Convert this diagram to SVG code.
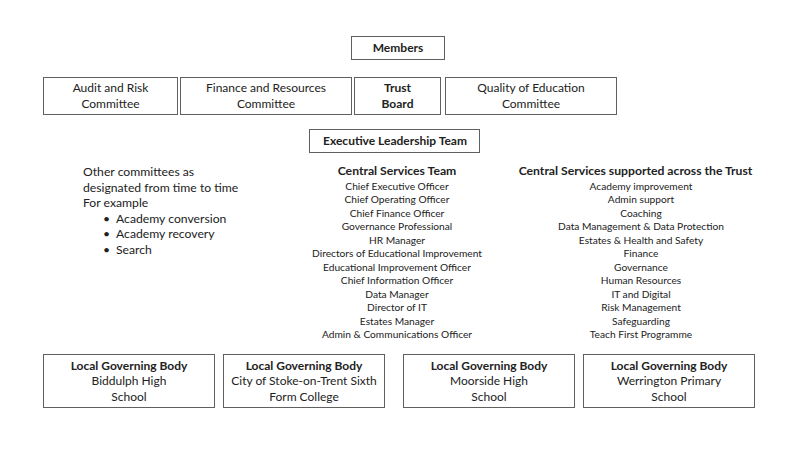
<svg xmlns="http://www.w3.org/2000/svg" width="800" height="458" viewBox="0 0 800 458">
<style>
.box{fill:#fff;stroke:#606060;stroke-width:1}
text{font-family:Lato,"Open Sans","Liberation Sans",sans-serif;fill:#222}
.t{font-size:12px;text-anchor:middle}
.b{font-weight:bold}
.l{font-size:10.2px;text-anchor:middle}
.h{font-size:12.2px;text-anchor:middle;font-weight:bold}
.o{font-size:12.2px}
</style>
<rect width="800" height="458" fill="#fff"/>
<g id="connectors"></g>
<g id="members"><rect class="box" x="351.5" y="36.5" width="93" height="23"/><text class="t b" x="398" y="51.5">Members</text></g>
<g id="audit"><rect class="box" x="43.5" y="77.5" width="134" height="37"/><text class="t" x="110.5" y="92">Audit and Risk</text><text class="t" x="110.5" y="108">Committee</text></g>
<g id="finance"><rect class="box" x="180.5" y="77.5" width="171" height="37"/><text class="t" x="266" y="92">Finance and Resources</text><text class="t" x="266" y="108">Committee</text></g>
<g id="trust"><rect class="box" x="354.5" y="77.5" width="86" height="37"/><text class="t b" x="397.5" y="92">Trust</text><text class="t b" x="397.5" y="108">Board</text></g>
<g id="quality"><rect class="box" x="445.5" y="77.5" width="171" height="37"/><text class="t" x="531" y="92">Quality of Education</text><text class="t" x="531" y="108">Committee</text></g>
<g id="exec"><rect class="box" x="309.5" y="129.5" width="170" height="23"/><text class="t b" x="395" y="145">Executive Leadership Team</text></g>
<g id="other">
<text class="o" x="83" y="175.5">Other committees as</text>
<text class="o" x="83" y="191.5">designated from time to time</text>
<text class="o" x="83" y="207">For example</text>
<text class="o" x="103" y="222.5">•</text><text class="o" x="116" y="222.5">Academy conversion</text>
<text class="o" x="103" y="238">•</text><text class="o" x="116" y="238">Academy recovery</text>
<text class="o" x="103" y="253.5">•</text><text class="o" x="116" y="253.5">Search</text>
</g>
<g id="central-team">
<text class="h" x="397" y="175">Central Services Team</text>
<text class="l" x="397" y="189.5">Chief Executive Officer</text>
<text class="l" x="397" y="203">Chief Operating Officer</text>
<text class="l" x="397" y="216.5">Chief Finance Officer</text>
<text class="l" x="397" y="230">Governance  Professional</text>
<text class="l" x="397" y="243.5">HR Manager</text>
<text class="l" x="397" y="257">Directors of Educational Improvement</text>
<text class="l" x="397" y="270.5">Educational Improvement  Officer</text>
<text class="l" x="397" y="284">Chief Information  Officer</text>
<text class="l" x="397" y="297.5">Data Manager</text>
<text class="l" x="397" y="311">Director of IT</text>
<text class="l" x="397" y="324.5">Estates Manager</text>
<text class="l" x="397" y="338">Admin &amp; Communications  Officer</text>
</g>
<g id="central-services">
<text class="h" x="635.5" y="175">Central Services supported across the Trust</text>
<text class="l" x="641" y="189.5">Academy improvement</text>
<text class="l" x="641" y="203">Admin  support</text>
<text class="l" x="641" y="216.5">Coaching</text>
<text class="l" x="641" y="230">Data Management  &amp; Data Protection</text>
<text class="l" x="641" y="243.5">Estates &amp; Health and Safety</text>
<text class="l" x="641" y="257">Finance</text>
<text class="l" x="641" y="270.5">Governance</text>
<text class="l" x="641" y="284">Human  Resources</text>
<text class="l" x="641" y="297.5">IT and Digital</text>
<text class="l" x="641" y="311">Risk Management</text>
<text class="l" x="641" y="324.5">Safeguarding</text>
<text class="l" x="641" y="338">Teach First Programme</text>
</g>
<g id="lgb1"><rect class="box" x="43.5" y="354.5" width="171" height="53"/><text class="t b" x="129" y="369.5">Local Governing Body</text><text class="t" x="129" y="385">Biddulph High</text><text class="t" x="129" y="400.5">School</text></g>
<g id="lgb2"><rect class="box" x="223.5" y="354.5" width="161" height="53"/><text class="t b" x="304" y="369.5">Local Governing Body</text><text class="t" x="304" y="385">City of Stoke-on-Trent Sixth</text><text class="t" x="304" y="400.5">Form College</text></g>
<g id="lgb3"><rect class="box" x="403.5" y="354.5" width="171" height="53"/><text class="t b" x="489" y="369.5">Local Governing Body</text><text class="t" x="489" y="385">Moorside High</text><text class="t" x="489" y="400.5">School</text></g>
<g id="lgb4"><rect class="box" x="583.5" y="354.5" width="171" height="53"/><text class="t b" x="669" y="369.5">Local Governing Body</text><text class="t" x="669" y="385">Werrington Primary</text><text class="t" x="669" y="400.5">School</text></g>
</svg>
